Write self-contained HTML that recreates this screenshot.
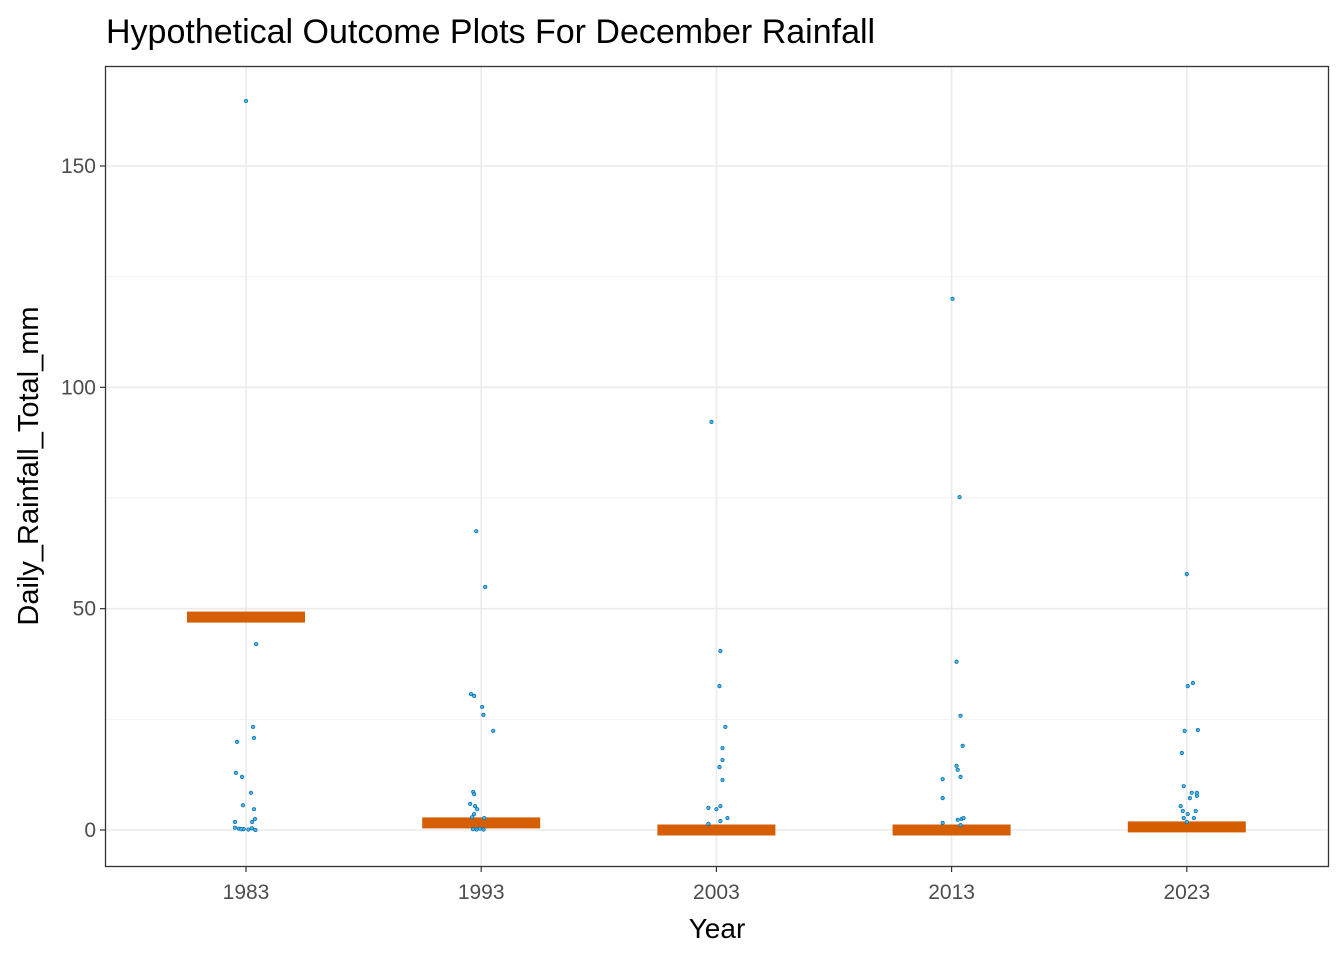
<!DOCTYPE html>
<html><head><meta charset="utf-8"><style>
body{margin:0;background:#fff;}
svg{display:block;font-family:"Liberation Sans",Arial,sans-serif;}
</style></head><body>
<svg id="chart" width="1344" height="960">
<text x="106" y="43" font-size="34" fill="#000">Hypothetical Outcome Plots For December Rainfall</text>
<g id="grid"></g>
<g id="bars"></g>
<g id="points"></g>
<rect x="105.5" y="66.5" width="1223" height="800" fill="none" stroke="#333" stroke-width="1.3"/>
<g id="axes"></g>
<text x="717" y="938" font-size="28" text-anchor="middle" fill="#000">Year</text>
<text transform="translate(38,466) rotate(-90)" font-size="29" text-anchor="middle" fill="#000">Daily_Rainfall_Total_mm</text>
</svg>
<script>
const years = [1983, 1993, 2003, 2013, 2023];
const yTicks = [0, 50, 100, 150];
const barValues = [48.1, 1.6, 0.0, 0.0, 0.7];
// points: year offset (jitter in years) and rainfall value
const pYear = [
1983,1983,1983,1983,1983,1983,1983,1983,1983,1983,1983,1983,1983,1983,1983,1983,1983,1983,1983,1983,
1993,1993,1993,1993,1993,1993,1993,1993,1993,1993,1993,1993,1993,1993,1993,1993,1993,1993,1993,
2003,2003,2003,2003,2003,2003,2003,2003,2003,2003,2003,2003,2003,2003,
2013,2013,2013,2013,2013,2013,2013,2013,2013,2013,2013,2013,2013,2013,2013,
2023,2023,2023,2023,2023,2023,2023,2023,2023,2023,2023,2023,2023,2023,2023,2023,2023,2023];
const pJitter = [
0,0.43,0.30,0.34,-0.38,-0.43,0.21,-0.13,0.34,-0.17,-0.47,0.38,0.26,-0.47,-0.3,-0.1,0.1,0.25,-0.2,0.4,
-0.21,0.17,-0.43,-0.30,0.04,0.09,0.51,-0.34,-0.30,-0.47,-0.26,-0.17,-0.30,-0.38,0.13,-0.35,-0.2,-0.05,0.1,
-0.21,0.17,0.13,0.38,0.26,0.26,0.13,0.26,-0.34,0,0.17,0.47,0.17,-0.34,
0.04,0.34,0.21,0.38,0.47,0.21,0.26,0.38,-0.38,-0.38,0.26,0.43,0.51,-0.38,0.38,
0,0.04,0.26,-0.09,0.47,-0.21,-0.13,0.21,0.43,0.13,0.43,-0.26,-0.17,0.04,0.38,-0.13,0.30,0];
const pValue = [
164.7,42.0,23.3,20.8,19.9,12.9,8.4,5.6,4.7,12.0,1.8,2.5,1.8,0.5,0.3,0.2,0.1,0.4,0.2,0.0,
67.5,54.9,30.7,30.3,27.8,26.0,22.4,8.6,8.1,5.9,5.4,4.7,3.6,2.9,2.7,0.2,0.1,0.3,0.1,
92.2,40.4,32.5,23.3,18.5,15.8,14.2,11.3,5.0,4.7,5.4,2.7,2.0,1.4,
120.0,75.2,38.0,25.8,19.0,14.5,13.6,12.0,11.5,7.2,2.3,2.5,2.7,1.6,1.1,
57.8,32.5,33.2,22.4,22.6,17.4,9.9,8.4,8.4,7.2,7.7,5.4,4.3,3.6,4.3,2.7,2.7,1.8];

const NS='http://www.w3.org/2000/svg';
const xS = v => 246 + (v - 1983) * 23.52;
const yS = v => 830 - v * 4.4267;
function mk(tag, attrs, parent){const e=document.createElementNS(NS,tag);for(const k in attrs)e.setAttribute(k,attrs[k]);parent.appendChild(e);return e;}
const grid=document.getElementById('grid'), axes=document.getElementById('axes');
for(let i=0;i<yTicks.length-1;i++){
  const v=(yTicks[i]+yTicks[i+1])/2;
  const l=mk('line',{x1:106,x2:1328,y1:yS(v),y2:yS(v),stroke:'#f2f2f2','stroke-width':1},grid);
  
  
}
yTicks.forEach(v=>{
  const l=mk('line',{x1:106,x2:1328,y1:yS(v),y2:yS(v),stroke:'#ebebeb','stroke-width':1.6},grid);
  
  
  const t=mk('line',{x1:100,x2:105,y1:yS(v),y2:yS(v),stroke:'#333','stroke-width':1.2},axes);
  
  
  const tx=mk('text',{x:96,y:yS(v)+7,'font-size':21,'text-anchor':'end',fill:'#4d4d4d'},axes);
  tx.textContent=v;
  
  
});
years.forEach(y=>{
  const l=mk('line',{x1:xS(y),x2:xS(y),y1:67,y2:866,stroke:'#ebebeb','stroke-width':1.6},grid);
  
  
  const t=mk('line',{x1:xS(y),x2:xS(y),y1:867,y2:872,stroke:'#333','stroke-width':1.2},axes);
  
  
  const tx=mk('text',{x:xS(y),y:899,'font-size':21,'text-anchor':'middle',fill:'#4d4d4d'},axes);
  tx.textContent=y;
  
  
});
const bars=document.getElementById('bars');
years.forEach((y,i)=>{
  const r=mk('rect',{x:xS(y)-59,y:yS(barValues[i])-5.5,width:118,height:11,fill:'#D55E00'},bars);
  
  
});
const pts=document.getElementById('points');
pValue.forEach((v,i)=>{
  const c=mk('circle',{cx:xS(pYear[i]+pJitter[i]),cy:yS(v),r:1.7,fill:'#56B4E9',stroke:'#0072B2','stroke-width':0.8},pts);
  
  
});
</script>
</body></html>
